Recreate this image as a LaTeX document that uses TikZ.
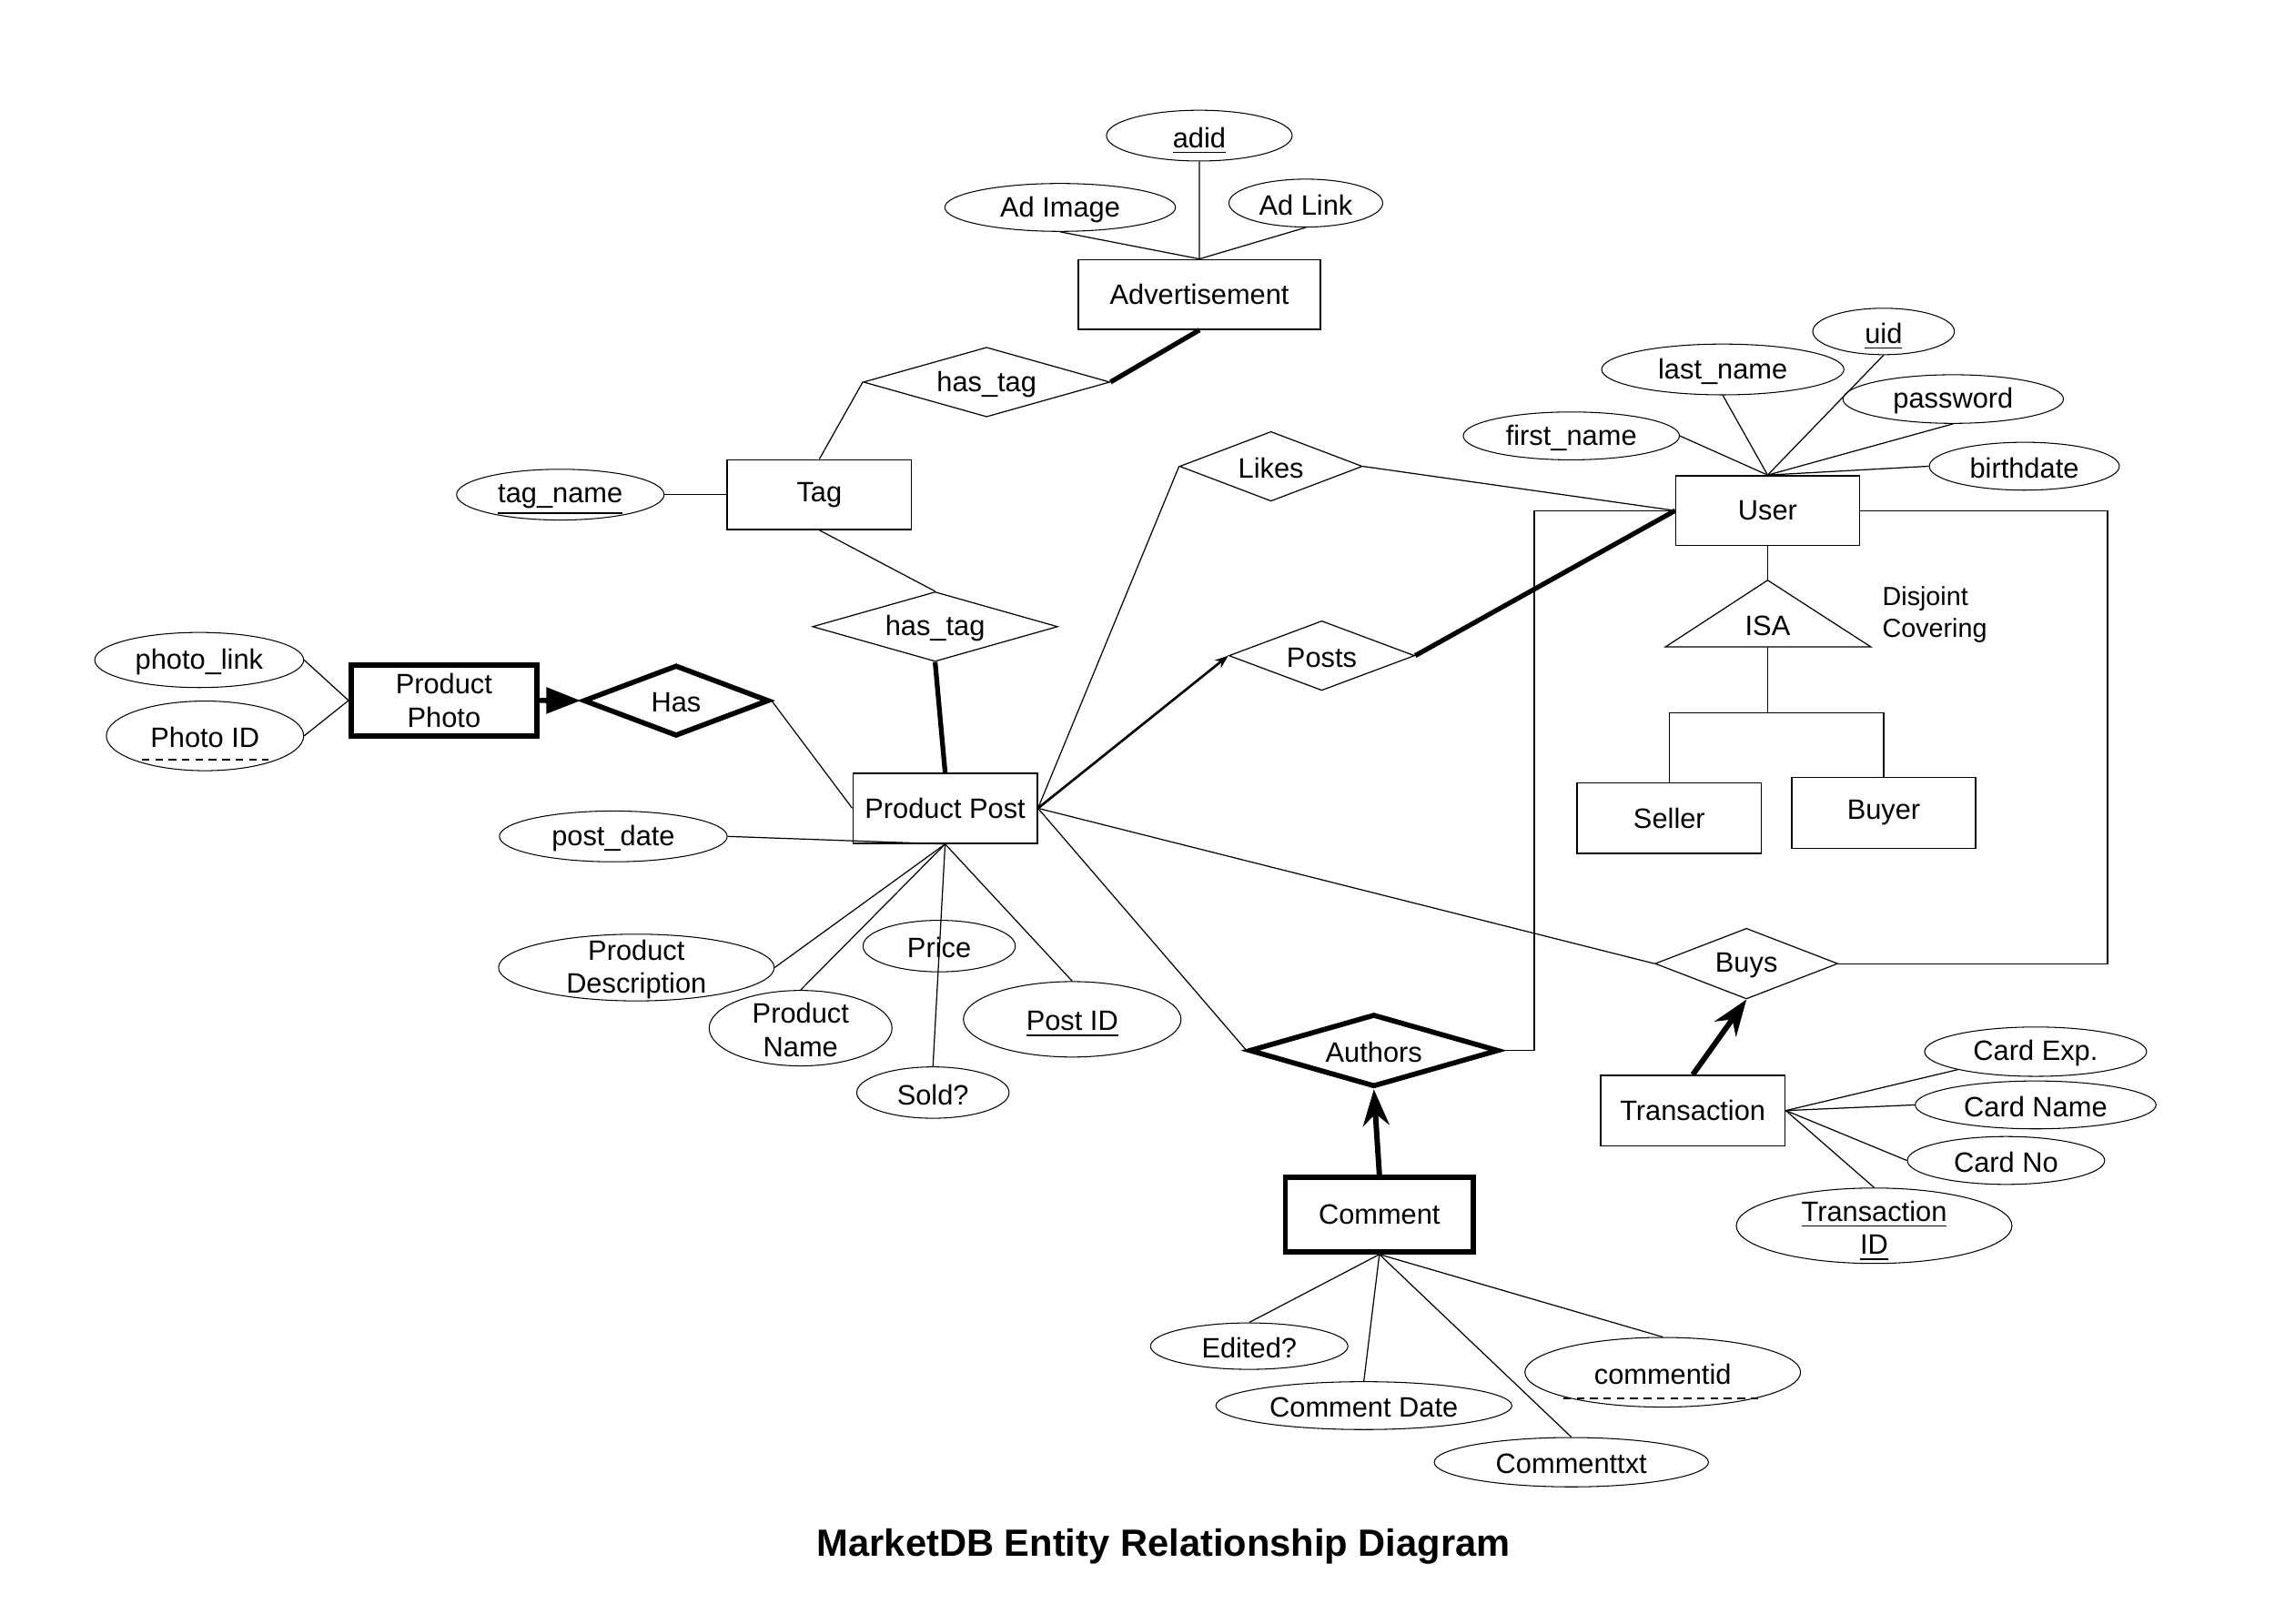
\documentclass[tikz,border=0pt]{standalone}
\usepackage{fontspec}
\setmainfont{Liberation Sans}
\usetikzlibrary{shapes.geometric,arrows.meta,calc}
\newcommand{\ulx}[1]{\rlap{\smash{\underline{\phantom{#1}}}}#1}
\begin{document}
\begin{tikzpicture}[x=0.016cm, y=-0.016cm, font=\fontsize{8.8pt}{10.5pt}\selectfont,
  every label/.append style={yshift=-0.6pt},
  attr/.style 2 args={draw, ellipse, line width=0.3pt, inner sep=0pt, minimum width={#1*0.016cm}, minimum height={#2*0.016cm}},
  entity/.style 2 args={draw, rectangle, line width=0.45pt, inner sep=0pt, align=center, minimum width={#1*0.016cm}, minimum height={#2*0.016cm}},
  weakentity/.style 2 args={entity={#1}{#2}, line width=1.6pt},
  relship/.style 2 args={draw, diamond, line width=0.35pt, inner sep=0pt, minimum width={#1*0.016cm}, minimum height={#2*0.016cm}},
  weakrel/.style 2 args={relship={#1}{#2}, line width=1.6pt},
  lnk/.style={line width=0.35pt},
  thicklnk/.style={line width=1.5pt},
  bigarrow/.style={line width=1.7pt, -{Stealth[length=0.4cm,width=0.29cm,inset=0.13cm]}},
  dashline/.style={dash pattern=on 2.4pt off 1.8pt, line width=0.6pt}
]
\useasboundingbox (0,0) rectangle (1568,1119);

% ---------- Advertisement ----------
\node[entity={167}{48}] (adv) at (826.7,203) {Advertisement};
\node[attr={128}{35}, label=center:{\ulx{adid}}] (adid) at (826.6,93.5) {};
\node[attr={159}{33}, label=center:{Ad Image}] (adimg) at (730.7,143) {};
\node[attr={106}{33}, label=center:{Ad Link}] (adlink) at (900,140) {};
\node[relship={170}{48}, label=center:{has\_tag}] (hastagA) at (680,263.4) {};

% ---------- Tag ----------
\node[entity={127}{48}] (tag) at (564.7,341) {Tag};
\node[attr={143}{35}, label=center:{\ulx{tag\_name}}] (tagname) at (386.2,341) {};
\node[relship={169}{48}, label=center:{has\_tag}] (hastagB) at (644.5,432) {};

% ---------- Product Post ----------
\node[entity={127}{48.4}] (pp) at (651.4,557.2) {Product Post};
\node[weakentity={128}{49}] (pphoto) at (306,482.9) {Product\\Photo};
\node[attr={144}{38}, label=center:{photo\_link}] (photolink) at (137.3,455) {};
\node[attr={136}{48}, label=center:{Photo ID}] (photoid) at (141.3,507.3) {};
\node[weakrel={128}{49}, label=center:{Has}] (has) at (466,483) {};
\node[attr={157}{35}, label=center:{post\_date}] (postdate) at (422.7,576.6) {};
\node[attr={190}{46}, label={[align=center]center:{Product\\Description}}] (pdesc) at (438.6,667) {};
\node[attr={126}{52}, label={[align=center]center:{Product\\Name}}] (pname) at (551.8,708.8) {};
\node[attr={105}{35.5}, label=center:{Price}] (price) at (647.3,652.2) {};
\node[attr={150}{52}, label=center:{\ulx{Post ID}}] (postid) at (739,702.7) {};
\node[attr={105}{35.4}, label=center:{Sold?}] (sold) at (643,753.2) {};

% ---------- Relationships ----------
\node[relship={126}{48}, label=center:{Likes}] (likes) at (876,321.5) {};
\node[relship={128}{48}, label=center:{Posts}] (posts) at (911,452) {};
\node[relship={126}{48.7}, label=center:{Buys}] (buys) at (1203.7,664.3) {};
\node[weakrel={172}{50}, label=center:{Authors}] (authors) at (946.9,724.2) {};

% ---------- User ----------
\node[entity={126.5}{48}] (user) at (1218.3,352) {User};
\node[attr={97.6}{32}, label=center:{\ulx{uid}}] (uid) at (1298.2,228.5) {};
\node[attr={167}{35}, label=center:{last\_name}] (lastname) at (1187.4,254.7) {};
\node[attr={152}{33.5}, label=center:{password}] (password) at (1346.2,275.1) {};
\node[attr={149}{33}, label=center:{first\_name}] (firstname) at (1083,300.5) {};
\node[attr={131}{33}, label=center:{birthdate}] (birthdate) at (1395.2,321.4) {};
\node[entity={127}{48.5}] (seller) at (1150.5,564) {Seller};
\node[entity={126.5}{48.7}] (buyer) at (1298.3,560.4) {Buyer};

% ISA triangle
\coordinate (isaT) at (1218.3,400);
\coordinate (isaL) at (1147.8,446);
\coordinate (isaR) at (1289.5,446);
\coordinate (isaB) at (1218.3,446);
\coordinate (isaJ) at (1218.3,491.5);
\draw[lnk] (isaL) -- (isaT) -- (isaR) -- cycle;
\node (isa) at (1218.3,431.5) {ISA};
\node[anchor=west, align=left, inner sep=0pt, font=\fontsize{8.2pt}{10pt}\selectfont] (disj) at (1297,423.5) {Disjoint\\Covering};

% ---------- Transaction ----------
\node[entity={127.3}{48.5}] (trans) at (1166.7,765.6) {Transaction};
\node[attr={153}{34}, label=center:{Card Exp.}] (cardexp) at (1403,725) {};
\node[attr={166}{33}, label=center:{Card Name}] (cardname) at (1403,761.7) {};
\node[attr={136}{33}, label=center:{Card No}] (cardno) at (1382.6,800) {};
\node[attr={190}{52}, label={[align=center]center:{\ulx{Transaction}\\\ulx{ID}}}] (tid) at (1291.7,845) {};

% ---------- Comment ----------
\node[weakentity={129.5}{51.4}] (comment) at (950.7,837.3) {Comment};
\node[attr={136}{32}, label=center:{Edited?}] (edited) at (861,928) {};
\node[attr={204}{33}, label=center:{Comment Date}] (cdate) at (940,969) {};
\node[attr={190}{48}, label=center:{commentid}] (commentid) at (1146,946) {};
\node[attr={189}{34}, label=center:{Commenttxt}] (ctxt) at (1083,1008) {};

\coordinate (rloop) at (1452.6,664.3);
\coordinate (lloop) at (1057.5,724.2);

% ---------- Connectors ----------
\draw[lnk] (adid.south) -- (adv.north);
\draw[lnk] (adimg.south) -- (adv.north);
\draw[lnk] (adlink.south) -- (adv.north);
\draw[thicklnk] (hastagA.east) -- (adv.south);
\draw[lnk] (hastagA.west) -- (tag.north);
\draw[lnk] (tagname.east) -- (tag.west);
\draw[lnk] (tag.south) -- (hastagB.north);
\draw[thicklnk] (hastagB.south) -- (pp.north);

\draw[lnk] (photolink.east) -- (pphoto.west);
\draw[lnk] (photoid.east) -- (pphoto.west);
\draw[line width=1.6pt, -{Triangle[length=0.38cm,width=0.28cm]}] (pphoto.east) -- (has.west);
\draw[lnk] (has.east) -- (pp.west);
\draw[lnk] (postdate.east) -- (pp.south);
\draw[lnk] (pdesc.east) -- (pp.south);
\draw[lnk] (pname.north) -- (pp.south);
\draw[lnk] (pp.south) -- (sold.north);
\draw[lnk] (pp.south) -- (postid.north);

\draw[lnk] (pp.east) -- (likes.west);
\draw[line width=0.75pt, -{Stealth[length=0.15cm,width=0.11cm]}] (pp.east) -- (posts.west);
\draw[lnk] (pp.east) -- (buys.west);
\draw[lnk] (pp.east) -- (authors.west);
\draw[lnk] (likes.east) -- (user.west);
\draw[thicklnk] (posts.east) -- (user.west);

\draw[lnk] (firstname.east) -- (user.north);
\draw[lnk] (lastname.south) -- (user.north);
\draw[lnk] (uid.south) -- (user.north);
\draw[lnk] (password.south) -- (user.north);
\draw[lnk] (birthdate.west) -- (user.north);

\draw[lnk] (user.south) -- (isaT);
\draw[lnk] (isaB) -- (isaJ);
\draw[lnk] (isaJ) -| (seller.north);
\draw[lnk] (isaJ) -| (buyer.north);

\draw[lnk] (user.east) -| (rloop) -- (buys.east);
\draw[lnk] (user.west) -| (lloop) -- (authors.east);

\draw[bigarrow] (trans.north) -- (buys.south);
\draw[lnk] (trans.east) -- (cardexp.193);
\draw[lnk] (trans.east) -- (cardname.west);
\draw[lnk] (trans.east) -- (cardno.west);
\draw[lnk] (trans.east) -- (tid.north);

\draw[bigarrow] (comment.north) -- (authors.south);
\draw[lnk] (comment.south) -- (edited.north);
\draw[lnk] (comment.south) -- (cdate.north);
\draw[lnk] (comment.south) -- (ctxt.north);
\draw[lnk] (comment.south) -- (commentid.north);

% dashed (partial key) underlines
\draw[dashline] ($(photoid.center)+(-43.5,16.5)$) -- ($(photoid.center)+(44,16.5)$);
\draw[dashline] ($(commentid.center)+(-68.5,18)$) -- ($(commentid.center)+(67.6,18)$);

% ---------- Title ----------
\node[font=\bfseries\fontsize{11.9pt}{14pt}\selectfont] (title) at (802,1066) {MarketDB Entity Relationship Diagram};
\end{tikzpicture}
\end{document}
